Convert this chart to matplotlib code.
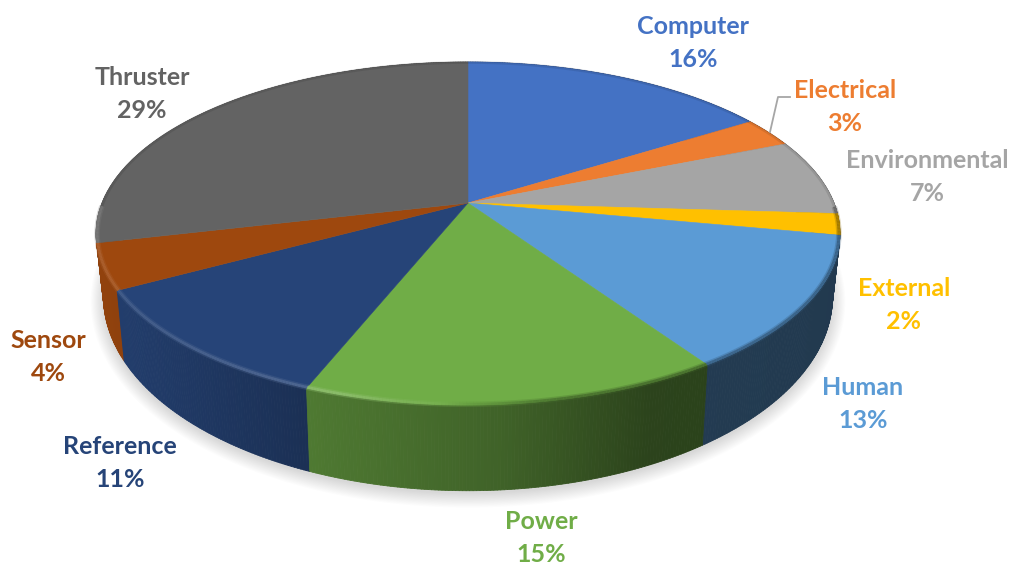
import numpy as np
import matplotlib
matplotlib.use("Agg")
import matplotlib.pyplot as plt
from matplotlib.collections import PolyCollection, LineCollection
from matplotlib.colors import to_rgb

# Chart data
categories = ["Computer", "Electrical", "Environmental", "External", "Human",
              "Power", "Reference", "Sensor", "Thruster"]
percents = [16, 2.8, 7.2, 2, 12.6, 15.4, 11, 4.3, 28.7]
colors = ["#4472c4", "#ed7d31", "#a5a5a5", "#ffc000", "#5b9bd5",
          "#70ad47", "#264478", "#9e480e", "#636363"]

# label centres in pixels
label_x = [693, 845, 927, 904, 863, 541, 120, 48, 142]
label_y = [43, 107, 177, 305, 404, 538, 463, 357, 94]

plt.rcParams["font.family"] = ["Lato", "DejaVu Sans"]

CX = 468
TOP_Y, TOP_A = 203, 166
BOT_Y, BOT_A = 262, 188
B, K = 366, 0.178
BOT_SCALE = 0.98


def top_rim(t, r=1.0):
    u, v = r * np.cos(t), r * np.sin(t)
    w = 1 + K * v
    return CX + B * u / w, TOP_Y - TOP_A * v / w


def bottom_rim(t):
    u, v = np.cos(t), np.sin(t)
    w = 1 + K * v
    return CX + BOT_SCALE * B * u / w, BOT_Y - BOT_A * v / w


def wall_shade(x):
    return np.interp(x, [100, 310, 500, 650, 840], [0.92, 0.70, 0.57, 0.39, 0.37])


def arc(i):
    return np.linspace(edges[i], edges[i + 1], max(int(percents[i] * 8), 4))


fig = plt.figure(figsize=(10.12, 5.65), dpi=100)
ax = fig.add_axes([0, 0, 1, 1])
ax.set_xlim(0, 1012)
ax.set_ylim(565, 0)
ax.axis("off")

# soft shadow under the pie
circle = np.linspace(0, 2 * np.pi, 361)
bx, by = bottom_rim(circle)
for grow in np.linspace(13, 0, 13):
    sx = CX + (bx - CX) * (1 + grow / 372)
    sy = BOT_Y + 3 + (by - BOT_Y) * (1 + grow / 215)
    ax.fill(sx, sy, color="#808080", alpha=0.025, lw=0, zorder=1)

# slice start and end angles, clockwise from 12 o'clock
shares = np.array(percents) / sum(percents)
edges = np.pi / 2 - 2 * np.pi * np.concatenate([[0], np.cumsum(shares)])

# side wall, back segments first
quads, quad_cols, depth = [], [], []
for i, col in enumerate(colors):
    ts = arc(i)
    x1, y1 = top_rim(ts)
    x2, y2 = bottom_rim(ts)
    for j in range(len(ts) - 1):
        quads.append([(x1[j], y1[j]), (x1[j + 1], y1[j + 1]),
                      (x2[j + 1], y2[j + 1]), (x2[j], y2[j])])
        quad_cols.append(np.array(to_rgb(col)) * wall_shade((x1[j] + x1[j + 1]) / 2))
        depth.append(y1[j])
order = np.argsort(depth)
wall_cols = [quad_cols[k] for k in order]
ax.add_collection(PolyCollection([quads[k] for k in order], facecolors=wall_cols,
                                 edgecolors=wall_cols, linewidths=0.6, zorder=2))

# top face
for i, col in enumerate(colors):
    x, y = top_rim(arc(i))
    ax.fill(np.r_[CX, x], np.r_[TOP_Y, y], color=col, lw=0.4, ec=col, zorder=3)

# bevel along the rim: pale on the left of the front, dark blur on the right
for i, col in enumerate(colors):
    ts = arc(i)
    base = np.array(to_rgb(col))
    x, y = top_rim(ts, 0.997)
    for width, alpha in [(4.0, 0.3), (2.0, 0.7)]:
        segs, seg_cols = [], []
        for j in range(len(ts) - 1):
            xm = (x[j] + x[j + 1]) / 2
            if np.sin(ts[j]) > -0.02:
                c = np.append(base * 0.5, 0.18 if width == 2.0 else 0.0)
            else:
                light = np.interp(xm, [110, 340, 470], [0.16, 0.24, 0.0])
                dark = np.interp(xm, [440, 560, 840], [0.0, 0.4, 0.45])
                c = np.append(base * (1 - dark) + (1 - base) * light, alpha)
            segs.append([(x[j], y[j]), (x[j + 1], y[j + 1])])
            seg_cols.append(c)
        ax.add_collection(LineCollection(segs, colors=seg_cols, linewidths=width, zorder=4))

# labels
for name, pct, col, lx, ly in zip(categories, percents, colors, label_x, label_y):
    ax.text(lx, ly, f"{name}\n{round(pct)}%", color=col, fontsize=18, fontweight="bold",
            ha="center", va="center", linespacing=1.5, zorder=6)

# leader line for the Electrical label
ax.plot([770, 778, 790], [132, 97, 97], color="#a6a6a6", lw=1.3, zorder=5)

plt.savefig("out.png", dpi=100)
